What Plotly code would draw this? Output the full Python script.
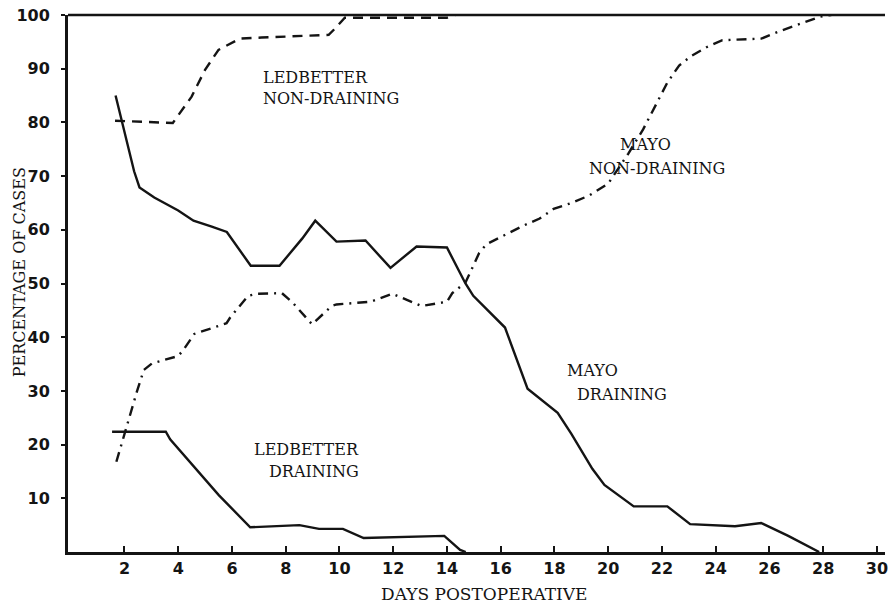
import plotly.graph_objects as go

# Days postoperative / percentage of cases
ledbetter_nd_days = [1.65, 3.8, 4.5, 5.0, 5.5, 6.3, 7.1, 9.6, 9.8, 10.2, 14.0, 14.3]
ledbetter_nd_pct = [80.3, 79.9, 84.8, 89.8, 93.5, 95.6, 95.8, 96.3, 97.3, 99.5, 99.5, 100]

mayo_nd_days = [1.7, 2.03, 2.46, 2.72, 3.02, 4.0, 4.19, 4.6, 5.8, 5.94, 6.6, 6.93, 7.86,
                8.25, 8.98, 9.71, 9.89, 11.17, 11.97, 13.05, 14.0, 14.2, 14.69, 14.98,
                15.2, 15.47, 16.2, 16.81, 17.45, 17.97, 18.63, 19.3, 20.0, 20.75, 21.3,
                21.8, 22.2, 22.64, 23.1, 23.66, 24.25, 25.2, 25.7, 26.44, 27.2, 27.9, 28.3]
mayo_nd_pct = [16.8, 22.5, 29.8, 33.9, 35.1, 36.5, 37.6, 40.6, 42.6, 43.7, 47.7, 48.1, 48.2,
               46.5, 42.4, 45.8, 46.1, 46.6, 48.1, 45.8, 46.6, 48.2, 50.2, 53.3,
               55.7, 57.3, 59.2, 60.7, 62.1, 63.9, 65.0, 66.4, 68.6, 74.2, 78.7,
               83.4, 87.4, 90.6, 92.4, 94.0, 95.3, 95.5, 95.6, 97.1, 98.4, 99.7, 100]

mayo_d_days = [1.67, 2.36, 2.56, 3.11, 4.0, 4.57, 5.25, 5.81, 6.7, 7.77, 8.62, 9.1, 9.89,
               10.97, 11.9, 12.87, 14.0, 14.69, 14.98, 16.16, 17.0, 18.12, 18.63, 19.41,
               19.86, 20.95, 22.2, 23.05, 24.72, 25.69, 26.7, 27.85]
mayo_d_pct = [85, 70.9, 67.9, 66, 63.6, 61.7, 60.6, 59.6, 53.3, 53.3, 58.4, 61.7, 57.8,
              58, 52.9, 56.9, 56.7, 50, 47.7, 41.8, 30.4, 25.9, 22, 15.5,
              12.5, 8.5, 8.5, 5.2, 4.8, 5.4, 3.0, 0]

ledbetter_d_days = [1.54, 3.54, 3.7, 4.66, 5.51, 6.68, 8.51, 9.24, 10.13, 10.9, 13.9, 14.49, 14.7]
ledbetter_d_pct = [22.4, 22.4, 21, 15.5, 10.6, 4.6, 5.0, 4.3, 4.3, 2.6, 3.0, 0.4, 0]

x_ticks = list(range(2, 31, 2))
y_ticks = list(range(10, 101, 10))

INK = "#141414"
TYPE = "DejaVu Serif"
SANS = "DejaVu Sans"

fig = go.Figure()
fig.add_trace(go.Scatter(x=ledbetter_nd_days, y=ledbetter_nd_pct, mode="lines",
                         line=dict(color=INK, width=2.4, dash="10px,7px"),
                         name="Ledbetter non-draining"))
fig.add_trace(go.Scatter(x=mayo_nd_days, y=mayo_nd_pct, mode="lines",
                         line=dict(color=INK, width=2.4, dash="10px,6px,2px,6px"),
                         name="Mayo non-draining"))
fig.add_trace(go.Scatter(x=mayo_d_days, y=mayo_d_pct, mode="lines",
                         line=dict(color=INK, width=2.4), name="Mayo draining"))
fig.add_trace(go.Scatter(x=ledbetter_d_days, y=ledbetter_d_pct, mode="lines",
                         line=dict(color=INK, width=2.4), name="Ledbetter draining"))

L, R, T, B = 68, 888, 15, 552
W, H = R - L, B - T


def px(xp):
    return (xp - L) / W


def py(yp):
    return (B - yp) / H


labels = [
    ("LEDBETTER", 262, 77, "left"), ("NON-DRAINING", 262, 99, "left"),
    ("MAYO", 648, 145, "center"), ("NON-DRAINING", 659, 168, "center"),
    ("MAYO", 567, 370, "left"), ("DRAINING", 577, 394, "left"),
    ("LEDBETTER", 362, 449, "right"), ("DRAINING", 362, 472, "right"),
]
for text, xp, yp, anchor in labels:
    fig.add_annotation(text=text, x=px(xp), y=py(yp), xref="paper", yref="paper",
                       xanchor=anchor, yanchor="middle", showarrow=False,
                       font=dict(family=TYPE, size=16, color=INK))

fig.add_annotation(text="DAYS POSTOPERATIVE", x=px(486), y=py(594), xref="paper", yref="paper",
                   xanchor="center", yanchor="middle", showarrow=False,
                   font=dict(family=TYPE, size=17, color=INK))
fig.add_annotation(text="PERCENTAGE OF CASES", x=px(19), y=py(272), xref="paper", yref="paper",
                   xanchor="center", yanchor="middle", showarrow=False, textangle=-90,
                   font=dict(family=TYPE, size=16, color=INK))

# top frame line
fig.add_shape(type="line", xref="paper", yref="paper", x0=0, x1=1, y0=1, y1=1,
              line=dict(color=INK, width=2.5))

fig.update_layout(
    width=888, height=603,
    margin=dict(l=L, r=0, t=T, b=603 - B),
    paper_bgcolor="white", plot_bgcolor="white",
    showlegend=False,
    xaxis=dict(range=[-0.1, 30.3], tickvals=x_ticks, ticktext=[str(v) for v in x_ticks],
               showgrid=False, zeroline=False, showline=True, linecolor=INK, linewidth=3,
               ticks="inside", ticklen=6, tickwidth=2, tickcolor=INK,
               ticklabelstandoff=0, ticklabeloverflow="allow",
               tickfont=dict(family=SANS, size=16, color=INK, weight="bold")),
    yaxis=dict(range=[0, 100], tickvals=y_ticks, ticktext=[str(v) for v in y_ticks],
               showgrid=False, zeroline=False, showline=True, linecolor=INK, linewidth=3,
               ticks="outside", ticklen=4, tickwidth=2, tickcolor=INK,
               ticklabelstandoff=8, ticklabeloverflow="allow",
               tickfont=dict(family=SANS, size=16, color=INK, weight="bold")),
)

fig.write_html("out.html", config={"displayModeBar": False},
               post_script="document.body.style.margin='0';document.body.style.overflow='hidden';")
